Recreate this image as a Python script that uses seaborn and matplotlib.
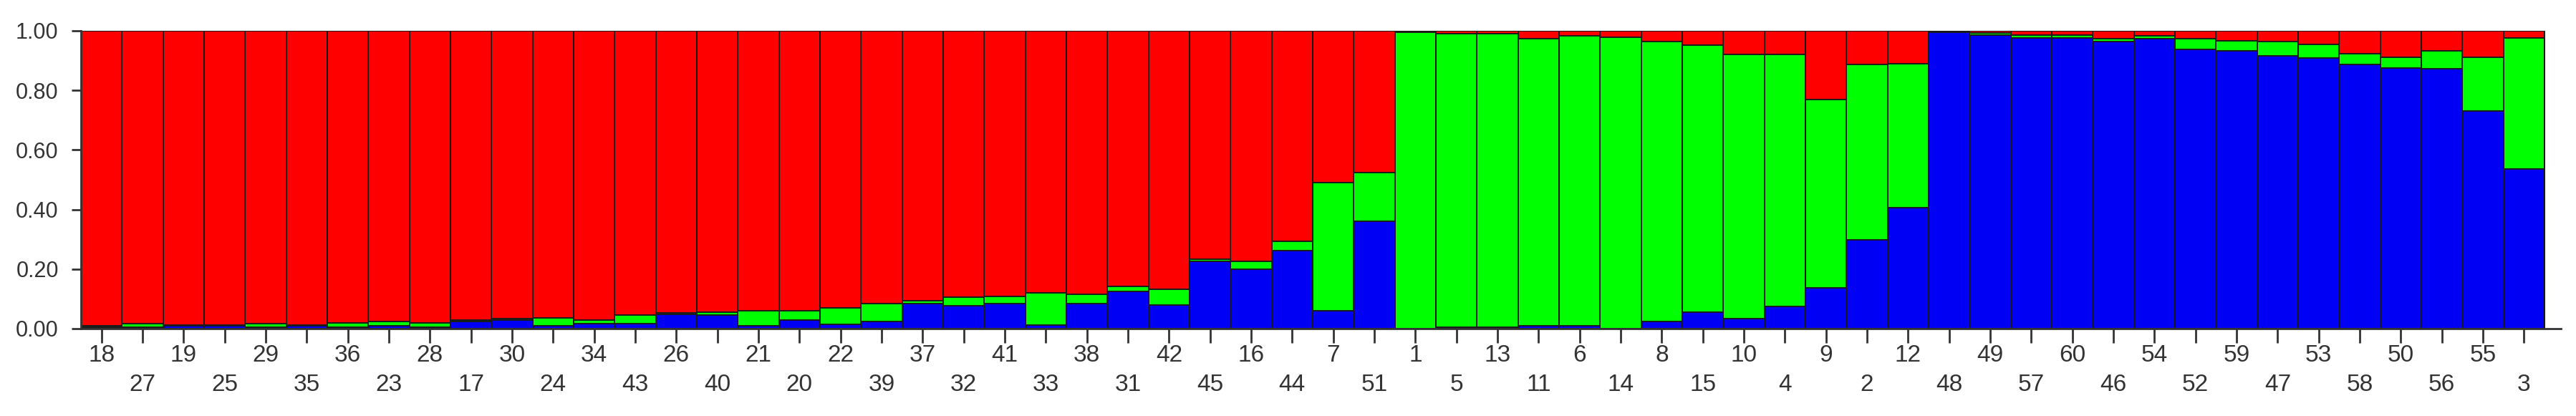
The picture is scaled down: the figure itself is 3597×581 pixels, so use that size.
import numpy as np
import pandas as pd
import matplotlib
matplotlib.use('Agg')
import matplotlib.pyplot as plt
from matplotlib.ticker import FormatStrFormatter
import seaborn as sns

# sample order as shown under the bars
samples = [18, 27, 19, 25, 29, 35, 36, 23, 28, 17,
           30, 24, 34, 43, 26, 40, 21, 20, 22, 39,
           37, 32, 41, 33, 38, 31, 42, 45, 16, 44,
           7, 51, 1, 5, 13, 11, 6, 14, 8, 15,
           10, 4, 9, 2, 12, 48, 49, 57, 60, 46,
           54, 52, 59, 47, 53, 58, 50, 56, 55, 3]

# membership coefficients (cluster 1 = blue, 2 = green, 3 = red)
blue = [.005, .005, .01, .01, .005, .01, .005, .01, .005, .025,
        .03, .01, .016, .016, .047, .045, .01, .03, .015, .025,
        .083, .078, .085, .012, .085, .124, .079, .227, .2, .263,
        .06, .36, .0, .005, .005, .01, .01, .0, .025, .056,
        .034, .074, .137, .298, .406, .995, .985, .975, .975, .965,
        .973, .937, .933, .917, .908, .888, .874, .872, .73, .537]
green = [.005, .012, .003, .003, .012, .003, .015, .015, .015, .003,
         .003, .025, .012, .03, .006, .01, .05, .03, .055, .058,
         .01, .027, .022, .107, .03, .018, .054, .005, .027, .03,
         .43, .165, .995, .985, .985, .963, .972, .978, .94, .895,
         .887, .847, .632, .59, .484, .003, .008, .01, .01, .008,
         .009, .036, .033, .047, .047, .036, .036, .06, .18, .44]
red = [.99, .983, .987, .987, .983, .987, .98, .975, .98, .972,
       .967, .965, .972, .954, .947, .945, .94, .94, .93, .917,
       .907, .895, .893, .881, .885, .858, .867, .768, .773, .707,
       .51, .475, .005, .01, .01, .027, .018, .022, .035, .049,
       .079, .079, .231, .112, .11, .002, .007, .015, .015, .027,
       .018, .027, .034, .036, .045, .076, .09, .068, .09, .023]

sns.set_style("ticks")
plt.rcParams['font.family'] = ['Liberation Sans Narrow', 'Liberation Sans', 'DejaVu Sans']

df = pd.DataFrame({'sample': [str(s) for s in samples],
                   'blue': blue, 'green': green, 'red': red})
df['blue_green'] = df['blue'] + df['green']
df['total'] = df['blue_green'] + df['red']
order = df['sample'].tolist()

fig = plt.figure(figsize=(35.97, 5.81), dpi=100)
ax = fig.add_axes([113 / 3597, 1 - 459 / 581, (3576 - 113) / 3597, (459 - 43) / 581])

# stacked bars: draw cumulative heights from top layer down
for col, c in [('total', '#ff0000'), ('blue_green', '#00ff00'), ('blue', '#0000f5')]:
    sns.barplot(data=df, x='sample', y=col, order=order, color=c, saturation=1,
                width=1, edgecolor='#1a1a1a', linewidth=1.4, errorbar=None, ax=ax)

ax.set_xlim(-0.5, 59.9)
ax.set_ylim(0, 1.0)
ax.set_xlabel('')
ax.set_ylabel('')
ax.set_yticks(np.arange(0, 1.01, 0.2))
ax.yaxis.set_major_formatter(FormatStrFormatter('%.2f'))

sns.despine(ax=ax, top=True, right=True)
for sp in ['left', 'bottom']:
    ax.spines[sp].set_color('#333333')
    ax.spines[sp].set_linewidth(2)

ax.tick_params(axis='y', length=9.5, width=2, color='#333333', labelsize=22,
               labelcolor='#333333', pad=13)
ax.tick_params(axis='x', length=14.5, width=2, color='#333333', labelsize=24,
               labelcolor='#333333')
for i, t in enumerate(ax.xaxis.get_major_ticks()):
    t.set_pad(1 if i % 2 == 0 else 30.5)

plt.savefig('out.png', dpi=100)
